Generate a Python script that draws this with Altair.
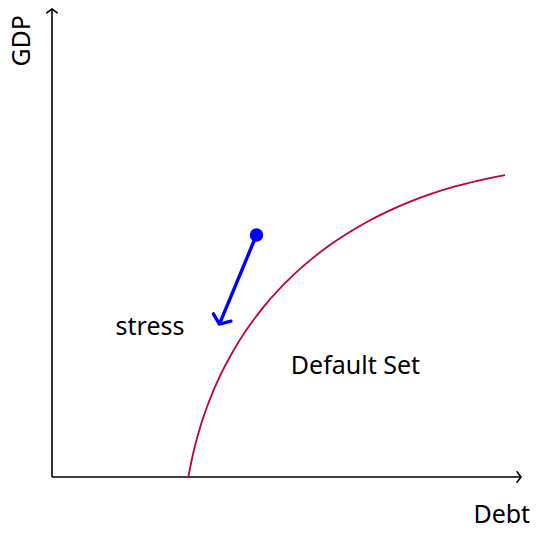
import math
import altair as alt
import pandas as pd

# Default-set frontier (Debt, GDP) in drawing units
curve_x = [2.906, 3.015, 3.152, 3.316, 3.506, 3.964, 4.521, 5.171, 5.910, 6.734,
           7.636, 8.613, 9.659]
curve_y = [0.000, 0.529, 1.037, 1.524, 1.990, 2.858, 3.638, 4.331, 4.935, 5.449,
           5.872, 6.202, 6.439]

# Axes (start -> end)
axis_x0 = [0.0, 0.0]
axis_y0 = [0.0, 0.0]
axis_x1 = [10.0, 0.0]
axis_y1 = [0.0, 9.98]

# Stress arrow (start point -> arrow tip)
stress_x0 = [4.36]
stress_y0 = [5.16]
stress_x1 = [3.57]
stress_y1 = [3.26]

# Text labels
label_text = ["stress", "Default Set", "Debt", "GDP"]
label_x = [2.09, 6.47, 9.59, -0.64]
label_y = [3.20, 2.37, -0.81, 9.30]
label_angle = [0, 0, 0, 270]

X_DOMAIN = [-0.938, 10.192]
Y_DOMAIN = [-1.087, 10.0]

xs = alt.Scale(domain=X_DOMAIN, nice=False, zero=False)
ys = alt.Scale(domain=Y_DOMAIN, nice=False, zero=False)


def heading(x0, y0, x1, y1):
    return math.degrees(math.atan2(x1 - x0, y1 - y0)) % 360


curve_df = pd.DataFrame({"x": curve_x, "y": curve_y, "i": list(range(len(curve_x)))})
axes_df = pd.DataFrame({
    "x": axis_x0, "y": axis_y0, "x2": axis_x1, "y2": axis_y1,
    "ang": [heading(a, b, c, d) for a, b, c, d in zip(axis_x0, axis_y0, axis_x1, axis_y1)],
})
stress_df = pd.DataFrame({
    "x": stress_x0, "y": stress_y0, "x2": stress_x1, "y2": stress_y1,
    "ang": [heading(a, b, c, d) for a, b, c, d in zip(stress_x0, stress_y0, stress_x1, stress_y1)],
})
label_df = pd.DataFrame({"t": label_text, "x": label_x, "y": label_y, "a": label_angle})

X = lambda f: alt.X(f, type="quantitative", scale=xs, axis=None)
Y = lambda f: alt.Y(f, type="quantitative", scale=ys, axis=None)

chevron = "M-1,0.75 L0,0 L1,0.75"

axes_lines = alt.Chart(axes_df).mark_rule(color="black", strokeWidth=1.6).encode(
    x=X("x"), y=Y("y"), x2="x2", y2="y2"
)
axes_heads = alt.Chart(axes_df).mark_point(
    shape=chevron, filled=False, color="black", strokeWidth=1.6, size=110, opacity=1,
    strokeCap="round", strokeJoin="round"
).encode(x=X("x2"), y=Y("y2"), angle=alt.Angle("ang:Q", scale=None))

curve = alt.Chart(curve_df).mark_line(
    color="#BF0040", strokeWidth=1.8, interpolate="monotone"
).encode(x=X("x"), y=Y("y"), order="i:Q")

stress_shaft = alt.Chart(stress_df).mark_rule(color="#0000FF", strokeWidth=3.4).encode(
    x=X("x"), y=Y("y"), x2="x2", y2="y2"
)
stress_head = alt.Chart(stress_df).mark_point(
    shape=chevron, filled=False, color="#0000FF", strokeWidth=3.4, size=360, opacity=1,
    strokeCap="round", strokeJoin="round"
).encode(x=X("x2"), y=Y("y2"), angle=alt.Angle("ang:Q", scale=None))
stress_dot = alt.Chart(stress_df).mark_circle(color="#0000FF", size=180, opacity=1).encode(
    x=X("x"), y=Y("y")
)

labels = alt.Chart(label_df).mark_text(
    font="Noto Sans", fontSize=25, color="black", align="center", baseline="middle"
).encode(x=X("x"), y=Y("y"), text="t:N", angle=alt.Angle("a:Q", scale=None))

chart = alt.layer(
    axes_lines, axes_heads, curve, stress_shaft, stress_head, stress_dot, labels
).properties(
    width=522, height=520, autosize=alt.AutoSizeParams(type="none"), padding=0
).configure_view(stroke=None)

chart.save("out.html", embed_options={"renderer": "svg", "actions": False})
